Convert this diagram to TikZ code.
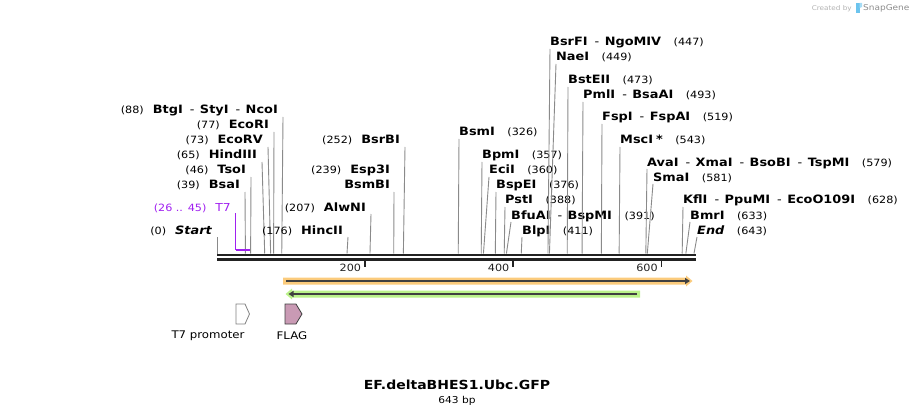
\documentclass[tikz,border=0pt]{standalone}
\usepackage{fontspec}
\setmainfont{DejaVu Sans}[FakeStretch=1.12]
\usetikzlibrary{arrows.meta}

\definecolor{leadgray}{HTML}{8A8A8A}
\definecolor{bbone}{HTML}{222222}
\definecolor{tsevenpurple}{HTML}{A020F0}
\definecolor{orfone}{HTML}{FBCB7C}
\definecolor{orftwo}{HTML}{BBF28A}
\definecolor{flagpink}{HTML}{C99AB4}
\definecolor{darkline}{HTML}{404040}
\definecolor{sgblue}{HTML}{6CC4EE}

\newcommand{\sepr}{\hspace{7pt}\textmd{-}\hspace{5.5pt}}
\newcommand{\numf}{\fontsize{10}{12}\selectfont\mdseries}

\begin{document}
\begin{tikzpicture}[x=1pt, y=-1pt, every node/.style={inner sep=0pt}]
    \tikzstyle{lead}=[leadgray, line width=0.9pt]
    \tikzstyle{rsite}=[anchor=base west, font=\fontsize{11.5}{13}\selectfont]
    \tikzstyle{lsite}=[anchor=base east, font=\fontsize{11.5}{13}\selectfont]
    \tikzstyle{marrs}=[darkline, line width=2pt, -{Triangle[length=5pt,width=6pt]}]

    \useasboundingbox (0,0) rectangle (913,417);

    % backbone
    \draw[bbone, line width=2.2pt] (217,255.3) -- (696,255.3);
    \draw[bbone, line width=2.2pt] (217,259.5) -- (696,259.5);
    \foreach \t in {200, 400, 600} {
        \draw[bbone, line width=1.5pt] ({216.5+0.7415*\t},261) -- ({216.5+0.7415*\t},267)
            node[anchor=base east, font=\fontsize{10}{12}\selectfont] (tick\t) at ({213.5+0.7415*\t},271) {\t};
    }

    % sites, labels on the right
    \foreach \p/\tx/\by/\nm [count=\i] in {326/459/136/BsmI, 357/482/159/BpmI, 360/489/174/EciI,
        376/496/189/BspEI, 388/505/204/PstI, 391/511/219/BfuAI\sepr BspMI, 411/522/234/BlpI,
        447/550/46/BsrFI\sepr NgoMIV, 449/556/61/NaeI, 473/568/84/BstEII, 493/583/99/PmlI\sepr BsaAI,
        519/602/121/FspI\sepr FspAI, 543/620/144/MscI\hspace{3pt}*, 579/647/166/AvaI\sepr XmaI\sepr BsoBI\sepr TspMI,
        581/653/181/SmaI, 628/683/204/KflI\sepr PpuMI\sepr EcoO109I, 633/690/219/BmrI} {
        \coordinate (rb\i) at ({216.5+0.7415*\p},253.5);
        \coordinate (rt\i) at (\tx,\by+3);
        \node[rsite] (rl\i) at (\tx,\by) {{\bfseries\nm}\hspace{12.5pt}{\numf(\p)}};
        \draw[lead] (rb\i) -- (rt\i);
    }

    % sites, labels on the left
    \foreach \p/\tx/\by/\nm [count=\i] in {88/283/114/BtgI\sepr StyI\sepr NcoI, 77/274/129/EcoRI,
        73/268/144/EcoRV, 65/262/159/HindIII, 46/251/174/TsoI, 39/245/189/BsaI,
        176/348/234/HincII, 207/371/211/AlwNI, 252/405/144/BsrBI} {
        \coordinate (lb\i) at ({216.5+0.7415*\p},253.5);
        \coordinate (lt\i) at (\tx,\by+3);
        \node[lsite] (ll\i) at (\tx-5,\by) {{\numf(\p)}\hspace{9pt}{\bfseries\nm}};
        \draw[lead] (lb\i) -- (lt\i);
    }
    \coordinate (bsmbb) at ({216.5+0.7415*239},253.5);
    \coordinate (bsmbt) at (394,192);
    \node[lsite] (esp) at (390,174) {{\numf(239)}\hspace{9pt}{\bfseries Esp3I}};
    \node[lsite] (bsmb) at (390,189) {\bfseries BsmBI};
    \draw[lead] (bsmbb) -- (bsmbt);

    % ends
    \coordinate (startb) at (217,253.5);
    \coordinate (startt) at (217,237);
    \node[lsite] (start) at (212,234) {{\numf(0)}\hspace{9pt}{\bfseries\itshape Start}};
    \draw[lead] (startb) -- (startt);
    \coordinate (endb) at (694,253.5);
    \coordinate (endt) at (697,237);
    \node[rsite] (end) at (697,234) {{\bfseries\itshape End}\hspace{12.5pt}{\numf(643)}};
    \draw[lead] (endb) -- (endt);

    % T7
    \coordinate (tsevena) at ({216.5+0.7415*26},250);
    \coordinate (tsevenb) at ({216.5+0.7415*45},250);
    \coordinate (tsevent) at ({216.5+0.7415*26},213);
    \node[lsite, text=tsevenpurple] (tseven) at (231,211) {{\numf(26 .. 45)}\hspace{9pt}{\fontsize{11}{13}\selectfont T7}};
    \draw[tsevenpurple, line width=0.9pt] (tsevent) -- (tsevena);
    \draw[tsevenpurple, line width=2pt] (tsevena) -- (tsevenb);

    % features
    \fill[orfone] (283,277.5) -- (686,277.5) -- (686,275.5) -- (692.5,281) -- (686,286.5) -- (686,284.5) -- (283,284.5) -- cycle;
    \draw[marrs] (286,281) -- (690,281);
    \fill[orftwo] (640,290.5) -- (292,290.5) -- (292,288.5) -- (285.5,294) -- (292,299.5) -- (292,297.5) -- (640,297.5) -- cycle;
    \draw[marrs] (637,294) -- (288.5,294);

    \draw[gray, fill=white, line width=0.8pt] (236,304) -- (245,304) -- (249.5,314) -- (245,324) -- (236,324) -- cycle;
    \draw[darkline, fill=flagpink, line width=0.8pt] (285,304) -- (296,304) -- (302,314) -- (296,324) -- (285,324) -- cycle;
    \node[font=\fontsize{10.5}{12}\selectfont] (tsevenprom) at (208,336) {T7 promoter};
    \node[font=\fontsize{10.5}{12}\selectfont] (flag) at (292,336) {FLAG};

    % title
    \node[font=\bfseries\fontsize{12.5}{15}\selectfont] (title) at (457,385) {EF.deltaBHES1.Ubc.GFP};
    \node[font=\fontsize{9.5}{11}\selectfont] (size) at (457,401) {643 bp};

    % credit
    \node[anchor=base east, text=black!30, font=\fontsize{6.5}{8}\selectfont] (created) at (852,11) {Created by};
    \fill[sgblue] (855.5,3) rectangle (859.5,13);
    \fill[sgblue!60] (859.5,3) -- (862,3) -- (862,7) -- (859.5,8) -- cycle;
    \node[anchor=base west, text=black!45, font=\fontsize{8}{10}\selectfont] (snapgene) at (863,11) {SnapGene};
\end{tikzpicture}
\end{document}
